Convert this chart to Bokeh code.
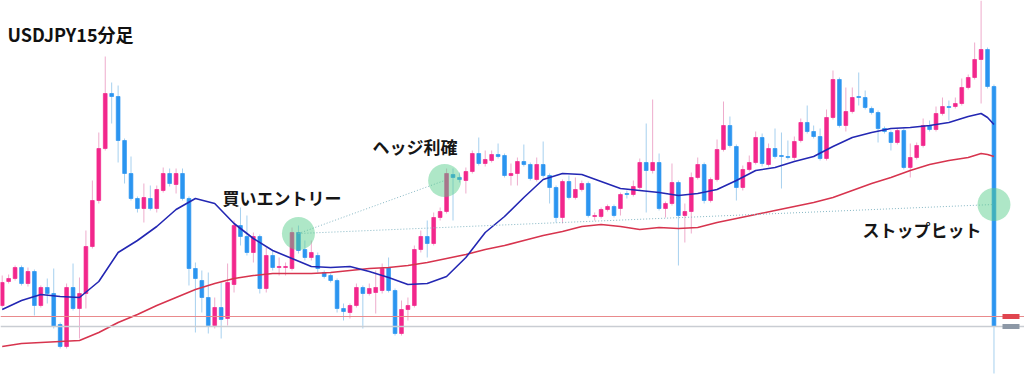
from bokeh.plotting import figure
from bokeh.models import ColumnDataSource, Range1d, Span, Label, BoxAnnotation
from bokeh.embed import file_html
from bokeh.resources import INLINE

# ---------------- data (price points) ----------------
title_text = "USDJPY15分足"
annot_texts = ["買いエントリー", "ヘッジ利確", "ストップヒット"]

open_ = [69, 93, 96, 107, 91, 103, 69, 87, 81, 50,
         28, 87, 66, 81, 128, 174, 226, 281, 278, 234,
         201, 176, 166, 176, 166, 184, 201, 190, 201, 176,
         106, 94, 77, 49, 67, 56, 90, 149, 138, 122,
         138, 86, 119, 107, 107, 106, 142, 125, 117, 119,
         102, 99, 94, 66, 62, 69, 87, 81, 82, 84,
         107, 84, 41, 65, 69, 125, 138, 131, 157, 163,
         200, 197, 194, 203, 221, 211, 214, 220, 219, 199,
         201, 213, 210, 195, 210, 199, 187, 157, 193, 177,
         185, 191, 158, 158, 165, 168, 166, 181, 180, 187,
         212, 204, 212, 166, 171, 192, 159, 163, 197, 210,
         174, 195, 225, 249, 228, 187, 205, 212, 237, 210,
         226, 219, 218, 217, 234, 252, 243, 238, 216, 257,
         295, 249, 263, 278, 277, 266, 262, 246, 242, 232,
         244, 207, 217, 229, 249, 245, 261, 268, 268, 271,
         287, 297, 315, 325, 288]
high = [99, 100, 109, 109, 107, 105, 89, 96, 106, 52,
        91, 111, 97, 144, 194, 242, 318, 292, 289, 236,
        218, 178, 191, 189, 189, 207, 206, 206, 206, 178,
        112, 104, 102, 77, 92, 111, 154, 167, 159, 142,
        140, 127, 124, 117, 112, 147, 149, 134, 134, 122,
        104, 101, 96, 71, 71, 91, 89, 91, 104, 111,
        117, 86, 74, 77, 129, 144, 154, 162, 167, 206,
        206, 202, 207, 224, 237, 224, 224, 231, 221, 211,
        217, 230, 212, 217, 233, 201, 189, 195, 199, 197,
        194, 193, 162, 167, 170, 170, 182, 184, 194, 216,
        251, 275, 221, 173, 211, 194, 171, 202, 217, 212,
        197, 235, 273, 258, 230, 209, 219, 243, 241, 231,
        246, 242, 234, 238, 256, 269, 249, 246, 265, 304,
        297, 287, 287, 302, 284, 268, 264, 248, 244, 246,
        246, 231, 232, 256, 254, 268, 277, 274, 277, 296,
        300, 332, 374, 327, 290]
low = [67, 91, 94, 89, 88, 59, 67, 71, 46, 26,
       26, 64, 36, 66, 126, 171, 224, 251, 212, 191,
       174, 162, 152, 164, 162, 182, 188, 181, 174, 89,
       42, 62, 41, 46, 36, 49, 82, 129, 119, 112,
       81, 82, 104, 99, 99, 104, 121, 114, 114, 102,
       96, 92, 62, 54, 56, 67, 46, 79, 61, 81,
       82, 39, 39, 54, 67, 122, 117, 129, 154, 161,
       154, 192, 181, 201, 209, 208, 212, 216, 197, 189,
       189, 208, 194, 193, 197, 171, 152, 151, 175, 175,
       183, 157, 154, 156, 163, 157, 159, 176, 178, 185,
       162, 201, 164, 157, 169, 109, 132, 141, 195, 171,
       172, 193, 223, 227, 174, 184, 203, 210, 208, 208,
       216, 186, 215, 214, 232, 241, 236, 214, 214, 255,
       247, 243, 261, 269, 265, 260, 232, 241, 224, 230,
       205, 197, 215, 227, 243, 243, 259, 254, 266, 269,
       285, 295, 271, 286, 1]
close = [92, 96, 107, 91, 103, 69, 87, 81, 48, 28,
         87, 66, 81, 128, 174, 226, 281, 278, 234, 201,
         176, 166, 177, 166, 185, 201, 191, 201, 176, 106,
         96, 77, 49, 67, 55, 92, 149, 138, 122, 138,
         86, 119, 107, 108, 108, 142, 124, 117, 122, 106,
         98, 94, 66, 63, 69, 87, 81, 86, 87, 106,
         84, 41, 65, 69, 125, 138, 131, 157, 163, 201,
         197, 195, 203, 221, 211, 215, 220, 218, 199, 201,
         213, 210, 196, 210, 199, 187, 157, 193, 177, 185,
         191, 159, 159, 165, 168, 159, 180, 180, 188, 212,
         204, 212, 166, 171, 192, 159, 163, 197, 210, 174,
         195, 225, 249, 229, 187, 205, 212, 237, 211, 226,
         218, 218, 217, 233, 252, 243, 238, 216, 257, 295,
         249, 263, 277, 277, 267, 262, 246, 243, 232, 244,
         207, 217, 229, 249, 245, 261, 268, 267, 271, 287,
         297, 315, 325, 288, 48]

ma_idx = list(range(0, 151, 3)) + [152, 153, 154]
ma_fast = [65, 74, 80, 78, 77, 93, 122, 134, 148, 165,
           176, 171, 151, 136, 124, 116, 108, 107, 108, 103,
           97, 90, 91, 98, 117, 142, 158, 177, 195, 201,
           200, 193, 186, 184, 182, 179, 181, 185, 194, 204,
           207, 213, 218, 228, 237, 242, 246, 247, 249, 252,
           258, 261, 257, 250]
ma_slow = [28, 31, 32, 33, 34, 42, 52, 60, 69, 77,
           85, 91, 96, 99, 101, 101, 101, 102, 104, 106,
           107, 109, 112, 116, 120, 125, 129, 134, 139, 143,
           148, 150, 148, 145, 147, 146, 147, 152, 156, 160,
           164, 168, 172, 177, 184, 191, 197, 204, 210, 214,
           217, 221, 220, 218]

# trades: entry, hedge take-profit, stop hit
trade_idx = [46, 68.7, 154]
trade_price = [141, 194, 170]

red_level = 58      # red horizontal price line
last_level = 48     # current price line

# ---------------- colours ----------------
UP, DOWN = "#f2278c", "#2b95f0"
UP_WICK, DOWN_WICK = "#eeaccc", "#a6d0ef"

n = len(open_)
idx = list(range(n))
inc = [c > o for o, c in zip(open_, close)]
src = ColumnDataSource(dict(
    x=idx,
    top=[max(o, c) for o, c in zip(open_, close)],
    bottom=[min(o, c) for o, c in zip(open_, close)],
    high=high, low=low,
    color=[UP if u else DOWN for u in inc],
    wick=[UP_WICK if u else DOWN_WICK for u in inc],
))

p = figure(width=1024, height=374, output_backend="svg", toolbar_location=None,
           x_range=Range1d(-0.264, 158.74), y_range=Range1d(0, 374),
           x_axis_location=None, y_axis_location=None, min_border=0)
p.grid.visible = False
p.outline_line_color = None
p.background_fill_color = "white"

# horizontal price lines
p.add_layout(Span(location=red_level, dimension="width", line_color="#e98a8c", line_width=1))
p.add_layout(Span(location=last_level, dimension="width", line_color="#c9cdd3", line_width=1.5))
p.add_layout(BoxAnnotation(left=1002, right=1019, left_units="screen", right_units="screen",
                           bottom=red_level - 2.5, top=red_level + 2.5,
                           fill_color="#e0454f", fill_alpha=1, line_color=None))
p.add_layout(BoxAnnotation(left=1002, right=1019, left_units="screen", right_units="screen",
                           bottom=last_level - 2.5, top=last_level + 2.5,
                           fill_color="#8d98a6", fill_alpha=1, line_color=None))

# candles
p.segment(x0="x", y0="low", x1="x", y1="high", line_color="wick", line_width=1, source=src)
p.vbar(x="x", width=0.58, top="top", bottom="bottom", fill_color="color",
       line_color="color", line_width=0.7, source=src)

# moving averages
p.line(ma_idx, ma_slow, line_color="#d7344e", line_width=1.6)
p.line(ma_idx, ma_fast, line_color="#2327b3", line_width=1.6)

# trade connection lines
p.line([trade_idx[0], trade_idx[1]], [trade_price[0], trade_price[1]],
       line_color="#86b7c4", line_width=1, line_dash="1 2")
p.line([trade_idx[0], trade_idx[2]], [trade_price[0], trade_price[2]],
       line_color="#86b7c4", line_width=1, line_dash="1 2")

# highlight circles
p.scatter(trade_idx, trade_price, marker="circle", size=33,
          fill_color="#55cc89", fill_alpha=0.48, line_color=None)

FONT = "Noto Sans CJK JP"
p.add_layout(Label(x=7, y=341, x_units="screen", y_units="screen", text=title_text,
                   text_font=FONT, text_font_size="18px", text_font_style="bold",
                   text_color="#111111", text_baseline="alphabetic"))
pos = [(222, 177), (372, 228), (862, 145)]
for t, (sx, sy) in zip(annot_texts, pos):
    p.add_layout(Label(x=sx, y=sy, x_units="screen", y_units="screen", text=t,
                       text_font=FONT, text_font_size="17px", text_font_style="bold",
                       text_color="#161616", text_baseline="middle"))

open("out.html", "w").write(file_html(p, INLINE))
